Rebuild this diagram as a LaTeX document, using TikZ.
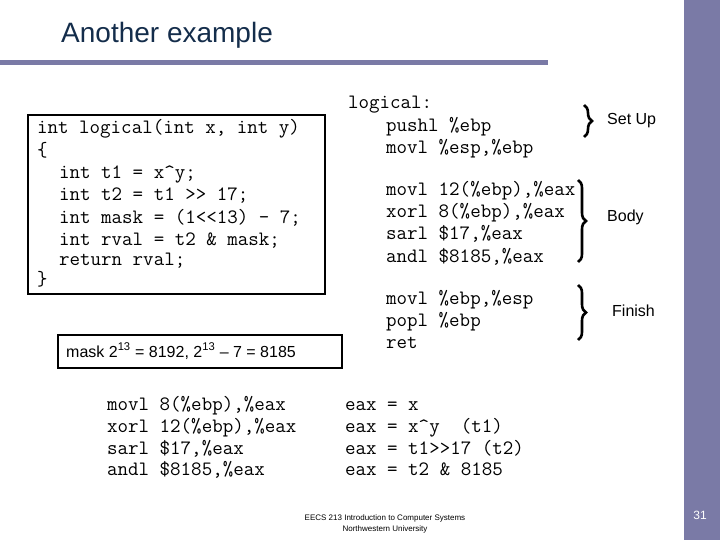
\documentclass[tikz,border=0pt]{standalone}
\usepackage{fontspec}
\setmainfont{Liberation Sans}
\usetikzlibrary{decorations.pathreplacing}
\definecolor{bar}{RGB}{122,122,166}
\definecolor{ttl}{RGB}{20,45,75}
\tikzset{code/.style={anchor=base west,inner sep=0pt,yshift=-6pt,font=\ttfamily\fontsize{20.4}{22}\selectfont},
lbl/.style={anchor=west,inner sep=0pt,font=\fontsize{16}{18}\selectfont},
br/.style={decorate,decoration={brace,amplitude=8pt},line width=2.6pt}}
\begin{document}
\begin{tikzpicture}[x=1pt,y=-1pt]
\useasboundingbox (0,0) rectangle (720,540);
\fill[bar] (684,0) rectangle (720,540);
\fill[bar] (0,60) rectangle (548,65);
\node[anchor=west,inner sep=0pt,text=ttl,font=\fontsize{28}{32}\selectfont] (title) at (61,35) {Another example};
\draw[line width=1.2pt] (28,115) rectangle (325,294);
\foreach \t/\x/\y [count=\i] in {{int logical(int x, int y)}/37/128,{\{}/37/151,{int t1 = x\textasciicircum y;}/59/173,{int t2 = t1 >> 17;}/59/195,{int mask = (1<<13) - 7;}/59/217,{int rval = t2 \& mask;}/59/239,{return rval;}/59/259,{\}}/37/279}
  \node[code] (c\i) at (\x,\y) {\t};
\draw[line width=1.2pt] (58,335) rectangle (342,368);
\node[lbl] (mask) at (66,351) {mask 2\textsuperscript{13} = 8192, 2\textsuperscript{13} – 7 = 8185};
\foreach \t/\x/\y [count=\i] in {{logical:}/348/103,{pushl \%ebp}/386/126,{movl \%esp,\%ebp}/386/148,{movl 12(\%ebp),\%eax}/386/190,{xorl 8(\%ebp),\%eax}/386/212,{sarl \$17,\%eax}/386/234,{andl \$8185,\%eax}/386/256,{movl \%ebp,\%esp}/386/298,{popl \%ebp}/386/320,{ret}/386/342}
  \node[code] (a\i) at (\x,\y) {\t};
\foreach \t/\y [count=\i] in {{movl 8(\%ebp),\%eax}/404,{xorl 12(\%ebp),\%eax}/426,{sarl \$17,\%eax}/448,{andl \$8185,\%eax}/469}
  \node[code] (b\i) at (107,\y) {\t};
\foreach \t/\y [count=\i] in {{eax = x}/404,{eax = x\textasciicircum y\ \ (t1)}/426,{eax = t1>>17 (t2)}/448,{eax = t2 \& 8185}/469}
  \node[code] (e\i) at (345,\y) {\t};
\draw[br] (584,105) -- (584,137);
\draw[br] (578,180) -- (578,262);
\draw[br] (578,285) -- (578,340);
\node[lbl] (su) at (607,121) {Set Up};
\node[lbl] (bo) at (607,217) {Body};
\node[lbl] (fi) at (612,311) {Finish};
\node[inner sep=0pt,align=center,font=\fontsize{8}{11}\selectfont] (foot) at (385,524) {EECS 213 Introduction to Computer Systems\\Northwestern University};
\node[inner sep=0pt,text=white,font=\fontsize{12}{14}\selectfont] (pg) at (700,515) {31};
\end{tikzpicture}
\end{document}
